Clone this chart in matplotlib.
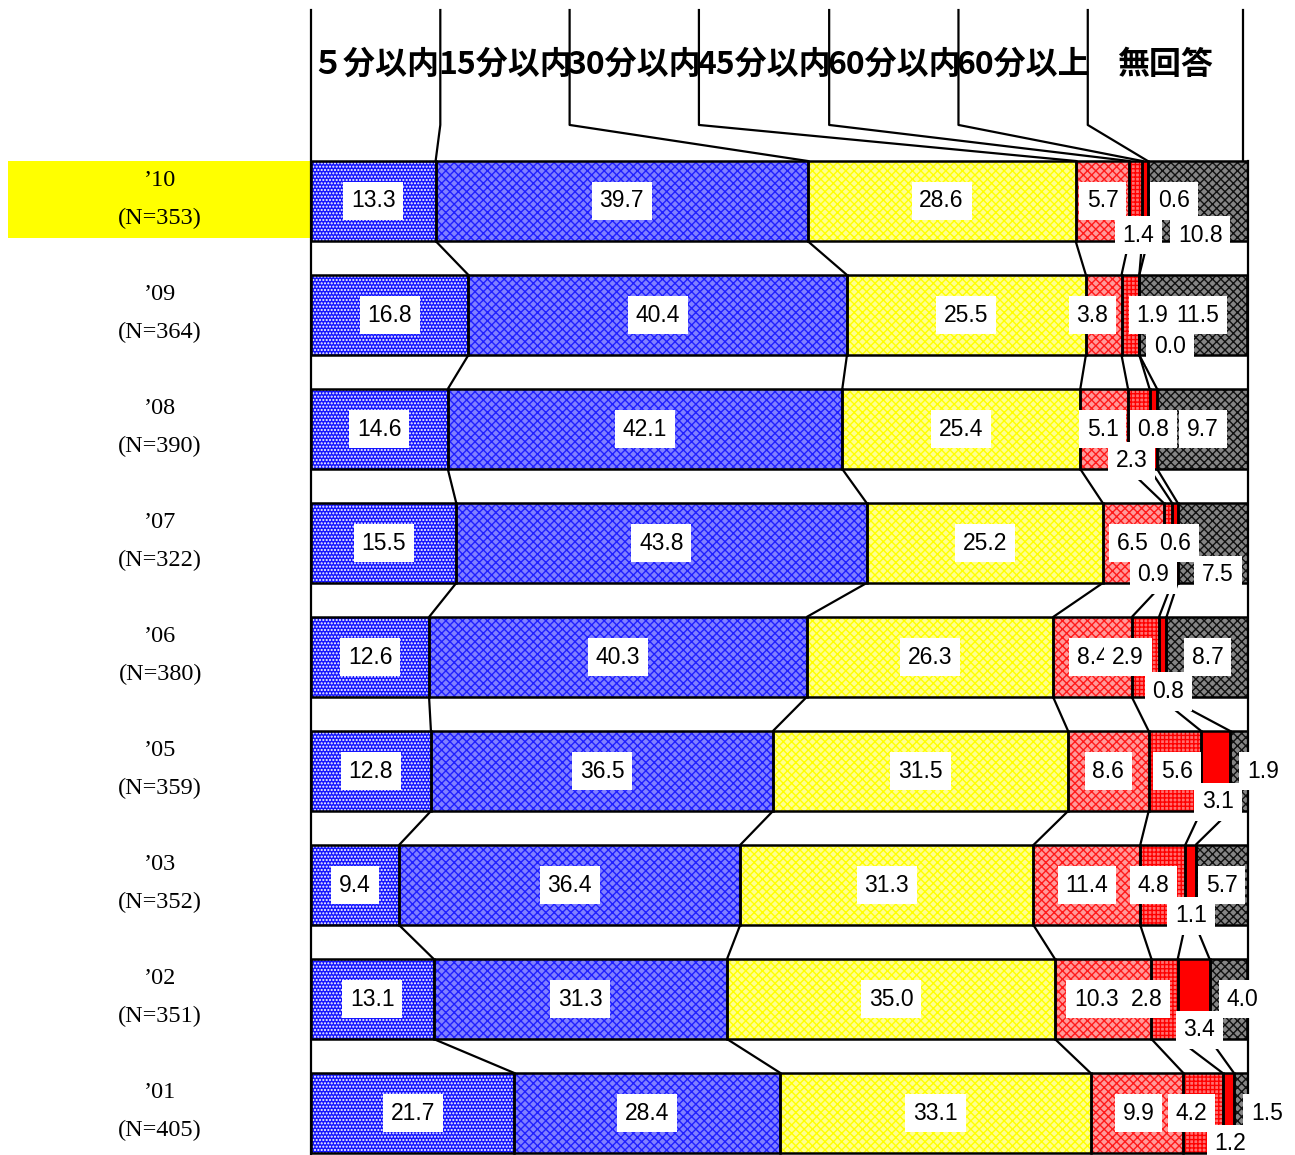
import matplotlib.pyplot as plt
from matplotlib.patches import Rectangle
import numpy as np

# 通勤時間の推移（％）
years = ["’10", "’09", "’08", "’07", "’06", "’05", "’03", "’02", "’01"]
n_counts = [353, 364, 390, 322, 380, 359, 352, 351, 405]
categories = ["５分以内", "15分以内", "30分以内", "45分以内", "60分以内", "60分以上", "無回答"]

within_5 = [13.3, 16.8, 14.6, 15.5, 12.6, 12.8, 9.4, 13.1, 21.7]
within_15 = [39.7, 40.4, 42.1, 43.8, 40.3, 36.5, 36.4, 31.3, 28.4]
within_30 = [28.6, 25.5, 25.4, 25.2, 26.3, 31.5, 31.3, 35.0, 33.1]
within_45 = [5.7, 3.8, 5.1, 6.5, 8.4, 8.6, 11.4, 10.3, 9.9]
within_60 = [1.4, 1.9, 2.3, 0.9, 2.9, 5.6, 4.8, 2.8, 4.2]
over_60 = [0.6, 0.0, 0.8, 0.6, 0.8, 3.1, 1.1, 3.4, 1.2]
no_answer = [10.8, 11.5, 9.7, 7.5, 8.7, 1.9, 5.7, 4.0, 1.5]

series = [within_5, within_15, within_30, within_45, within_60, over_60, no_answer]

# 塗りつぶしの見た目（地の色, 模様の色, 模様）
fills = [
    ('#1414ff', 'white', '.....'),
    ('#8080ff', '#2020ff', 'xxxx'),
    ('#ffff90', '#ffff00', 'xxxx'),
    ('#ff9a9a', '#ff1a1a', 'xxxx'),
    ('#ff7070', '#ff0000', '++++'),
    ('#ff0000', '#ff0000', ''),
    ('#858585', '#111111', 'xxxx'),
]

# 小さい区分のラベル位置（x は％、dy は行の下方向へのずれ）
small_label_x = [
    [84.5, 88.3, 92.1, 94.9],
    [83.4, 89.8, 91.7, 94.6],
    [84.5, 87.6, 89.9, 95.2],
    [87.7, 89.9, 92.2, 96.8],
    [83.4, 87.2, 91.5, 95.7],
    [85.1, 92.4, 96.8, 101.6],
    [82.8, 89.9, 93.9, 97.2],
    [83.8, 89.2, 94.8, 99.4],
    [88.3, 94.0, 98.1, 102.0],
]
small_label_dy = [
    [0, 0.30, 0, 0.30],
    [0, 0, 0.28, 0],
    [0, 0.28, 0, 0],
    [0, 0.28, 0, 0.28],
    [0, 0, 0.30, 0],
    [0, 0, 0.27, 0],
    [0, 0, 0.27, 0],
    [0, 0, 0.27, 0],
    [0, 0, 0.27, 0],
]

header_edges = [0, 13.8, 27.6, 41.4, 55.3, 69.1, 82.9, 99.5]

plt.rcParams['hatch.linewidth'] = 1.0

fig = plt.figure(figsize=(12.95, 11.55), dpi=100)
ax = fig.add_axes([311 / 1295, 0, 937 / 1295, 1])
ax.set_xlim(0, 100)
ax.set_ylim(8.368, -1.763)
ax.axis('off')

rows = np.arange(len(years))
bar_h = 0.702
half = bar_h / 2

values = np.array(series)
cum = np.vstack([np.zeros(len(years)), np.cumsum(values, axis=0)])

# 棒
for k, vals in enumerate(series):
    fc, hc, hatch = fills[k]
    ax.barh(rows, vals, left=cum[k], height=bar_h, color=fc, edgecolor=hc,
            hatch=hatch, linewidth=0, zorder=2)
    ax.barh(rows, vals, left=cum[k], height=bar_h, fill=False,
            edgecolor='black', linewidth=1.8, zorder=3)

# 区分線
for i in range(len(years) - 1):
    for k in range(1, 7):
        ax.plot([cum[k][i], cum[k][i + 1]], [i + half, i + 1 - half],
                color='black', lw=1.6, zorder=1, solid_capstyle='butt')

# 枠の縦線
ax.plot([0, 0], [-1.675, 8.368], color='black', lw=1.6, clip_on=False, zorder=4)
ax.plot([100, 100], [-half, 8.368], color='black', lw=1.6, clip_on=False, zorder=4)

# 見出し
y_top, y_mid = -1.675, -0.667
for k in range(1, 7):
    xh = header_edges[k]
    ax.plot([xh, xh, cum[k][0]], [y_top, y_mid, -half], color='black', lw=1.6,
            clip_on=False, zorder=4)
ax.plot([header_edges[7]] * 2, [y_top, -half - 0.01], color='black', lw=1.6,
        clip_on=False, zorder=4)
for k, name in enumerate(categories):
    xc = (header_edges[k] + header_edges[k + 1]) / 2
    ax.text(xc, -1.193, name, ha='center', va='center', fontsize=23,
            fontweight='bold', family=['Noto Sans CJK JP', 'DejaVu Sans'],
            clip_on=False)

# 年の見出し
ax.add_patch(Rectangle((-32.3, -half), 32.2, 0.676, facecolor='#ffff00',
                       edgecolor='none', clip_on=False, zorder=0))
for i, (yr, n) in enumerate(zip(years, n_counts)):
    ax.text(-16.1, i - 0.184, yr, ha='center', va='center', fontsize=17.5,
            family=['Liberation Serif', 'DejaVu Serif'])
    ax.text(-16.1, i + 0.149, f"(N={n})", ha='center', va='center',
            fontsize=17.5, family=['Liberation Serif', 'DejaVu Serif'])

# 数値ラベル
for k, vals in enumerate(series):
    for i in rows:
        if k < 3:
            x = cum[k][i] + vals[i] / 2
            y = i
        else:
            x = small_label_x[i][k - 3]
            y = i + small_label_dy[i][k - 3]
        ax.text(x, y, f"{vals[i]:.1f}", ha='center', va='center', fontsize=16.5,
                family=['Liberation Sans', 'DejaVu Sans'], clip_on=False,
                zorder=10 + k,
                bbox=dict(boxstyle='square,pad=0.34', facecolor='white',
                          edgecolor='none'))

fig.savefig('out.png', dpi=100)
